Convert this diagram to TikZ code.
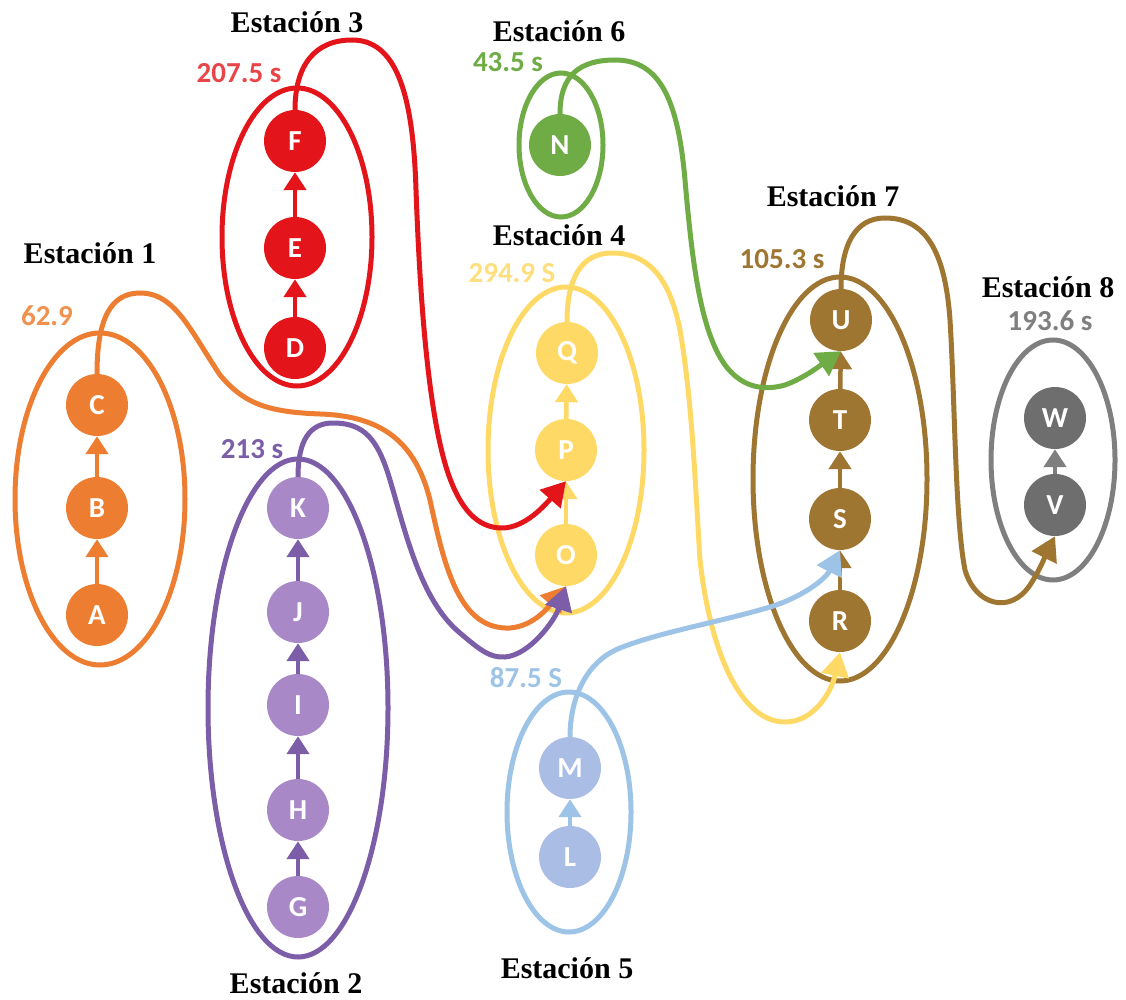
\documentclass[tikz,border=0pt]{standalone}
\usepackage{fontspec}
\setmainfont{Liberation Serif}
\newfontfamily\labfont{Carlito}
\usetikzlibrary{arrows.meta}

\definecolor{cOr}{HTML}{ED7D31}
\definecolor{cRe}{HTML}{E3151A}
\definecolor{cGr}{HTML}{6FAC46}
\definecolor{cYe}{HTML}{FFD966}
\definecolor{cPu}{HTML}{7B5EA7}
\definecolor{cPuL}{HTML}{A888C6}
\definecolor{cBl}{HTML}{9DC3E6}
\definecolor{cBlL}{HTML}{A9BDE5}
\definecolor{cBr}{HTML}{9E7632}
\definecolor{cGy}{HTML}{7F7F7F}
\definecolor{cGyD}{HTML}{6E6E6E}

\begin{document}
\begin{tikzpicture}[x=1pt,y=-1pt,
  stn/.style={circle, fill=#1, minimum size=62pt, inner sep=0pt, text=white,
    font=\labfont\bfseries\fontsize{29}{29}\selectfont},
  ring/.style={draw=#1, line width=5pt},
  link/.style={draw=#1, line width=4.5pt, -{Triangle[width=22pt,length=18pt]}},
  flow/.style={draw=#1, line width=5pt, -{Triangle[width=27pt,length=24pt]}},
  title/.style={anchor=base, inner sep=0pt, text=black,
    font=\bfseries\fontsize{30}{30}\selectfont},
  tlabel/.style={anchor=base, inner sep=0pt, text=#1,
    font=\labfont\bfseries\fontsize{29}{29}\selectfont},
]
\useasboundingbox (0,0) rectangle (1126,1000);

% station outlines
\draw[ring=cOr] (100,499) ellipse [x radius=85pt, y radius=166pt];
\draw[ring=cRe] (297,237) ellipse [x radius=75pt, y radius=149pt];
\draw[ring=cGr] (561,145) ellipse [x radius=42pt, y radius=72pt];
\draw[ring=cYe] (566,450) ellipse [x radius=78pt, y radius=163pt];
\draw[ring=cPu] (298,708) ellipse [x radius=90pt, y radius=249pt];
\draw[ring=cBl] (569,812) ellipse [x radius=62pt, y radius=120pt];
\draw[ring=cBr] (840,479) ellipse [x radius=87pt, y radius=202pt];
\draw[ring=cGy] (1053,460) ellipse [x radius=62pt, y radius=120pt];

% tasks
\node[stn=cOr] (A) at (97,615) {A};
\node[stn=cOr] (B) at (97,508) {B};
\node[stn=cOr] (C) at (97,405) {C};
\node[stn=cRe] (D) at (295,348) {D};
\node[stn=cRe] (E) at (295,248) {E};
\node[stn=cRe] (F) at (295,141) {F};
\node[stn=cPuL] (G) at (298,907) {G};
\node[stn=cPuL] (H) at (298,810) {H};
\node[stn=cPuL] (I) at (298,705) {I};
\node[stn=cPuL] (J) at (298,612) {J};
\node[stn=cPuL] (K) at (298,508) {K};
\node[stn=cBlL] (L) at (570,857) {L};
\node[stn=cBlL] (M) at (570,768) {M};
\node[stn=cGr] (N) at (560,145) {N};
\node[stn=cYe] (O) at (566,555) {O};
\node[stn=cYe] (P) at (566,450) {P};
\node[stn=cYe] (Q) at (567,353) {Q};
\node[stn=cBr] (R) at (840,621) {R};
\node[stn=cBr] (S) at (840,519) {S};
\node[stn=cBr] (T) at (840,420) {T};
\node[stn=cBr] (U) at (841,320) {U};
\node[stn=cGyD] (V) at (1055,505) {V};
\node[stn=cGyD] (W) at (1055,418) {W};

% precedence inside each station
\draw[link=cOr] (A) -- (B);
\draw[link=cOr] (B) -- (C);
\draw[link=cRe] (D) -- (E);
\draw[link=cRe] (E) -- (F);
\draw[link=cPu] (G) -- (H);
\draw[link=cPu] (H) -- (I);
\draw[link=cPu] (I) -- (J);
\draw[link=cPu] (J) -- (K);
\draw[link=cBl] (L) -- (M);
\draw[link=cYe] (O) -- (P);
\draw[link=cYe] (P) -- (Q);
\draw[link=cBr] (R) -- (S);
\draw[link=cBr] (S) -- (T);
\draw[link=cBr] (T) -- (U);
\draw[link=cGy] (V) -- (W);

% precedence between stations
\draw[flow=cOr] (C.north) .. controls (97,320) and (110,293) .. (140,293)
  .. controls (175,293) and (190,330) .. (220,375)
  .. controls (245,405) and (270,412) .. (320,414)
  .. controls (380,416) and (415,440) .. (430,500)
  .. controls (445,570) and (460,630) .. (510,628)
  .. controls (535,626) and (550,605) .. (O.south);
\draw[flow=cPu] (K.north) .. controls (298,440) and (310,423) .. (333,423)
  .. controls (365,423) and (378,440) .. (390,480)
  .. controls (405,530) and (420,600) .. (460,633)
  .. controls (480,650) and (490,658) .. (505,657)
  .. controls (530,655) and (555,620) .. (O.south);
\draw[flow=cRe] (F.north) .. controls (295,65) and (315,40) .. (352,40)
  .. controls (395,40) and (413,90) .. (416,190)
  .. controls (420,300) and (428,410) .. (447,470)
  .. controls (460,510) and (478,528) .. (502,528)
  .. controls (525,528) and (545,505) .. (P.south);
\draw[flow=cGr] (N.north) .. controls (560,75) and (580,60) .. (615,60)
  .. controls (660,60) and (678,100) .. (685,180)
  .. controls (692,260) and (700,330) .. (725,365)
  .. controls (740,385) and (760,392) .. (785,385)
  .. controls (805,378) and (825,362) .. (U.south);
\draw[flow=cYe] (Q.north) .. controls (567,280) and (580,253) .. (612,253)
  .. controls (650,253) and (670,280) .. (680,330)
  .. controls (692,400) and (695,480) .. (700,560)
  .. controls (710,650) and (740,722) .. (785,722)
  .. controls (815,722) and (832,690) .. (R.south);
\draw[flow=cBl] (M.north) .. controls (570,700) and (585,662) .. (620,648)
  .. controls (660,632) and (720,622) .. (770,607)
  .. controls (800,598) and (825,580) .. (S.south);
\draw[flow=cBr] (U.north) .. controls (841,245) and (855,218) .. (885,218)
  .. controls (925,218) and (945,250) .. (950,320)
  .. controls (955,400) and (955,520) .. (965,570)
  .. controls (975,605) and (1010,615) .. (1030,585)
  .. controls (1040,570) and (1048,550) .. (V.south);

% station names
\node[title] (n1) at (90,263) {Estación 1};
\node[title] (n2) at (296,993) {Estación 2};
\node[title] (n3) at (297,33) {Estación 3};
\node[title] (n4) at (559,245) {Estación 4};
\node[title] (n5) at (567,978) {Estación 5};
\node[title] (n6) at (559,42) {Estación 6};
\node[title] (n7) at (833,207) {Estación 7};
\node[title] (n8) at (1048,297) {Estación 8};

% station times
\node[tlabel=cOr!85!white] (t1) at (47,325) {62.9};
\node[tlabel=cPu] (t2) at (252,458) {213 s};
\node[tlabel=cRe!80!white] (t3) at (239,83) {207.5 s};
\node[tlabel=cYe!85!white] (t4) at (512,282) {294.9 S};
\node[tlabel=cBl] (t5) at (526,687) {87.5 S};
\node[tlabel=cGr] (t6) at (508,72) {43.5 s};
\node[tlabel=cBr] (t7) at (782,268) {105.3 s};
\node[tlabel=cGy] (t8) at (1050,330) {193.6 s};
\end{tikzpicture}
\end{document}
